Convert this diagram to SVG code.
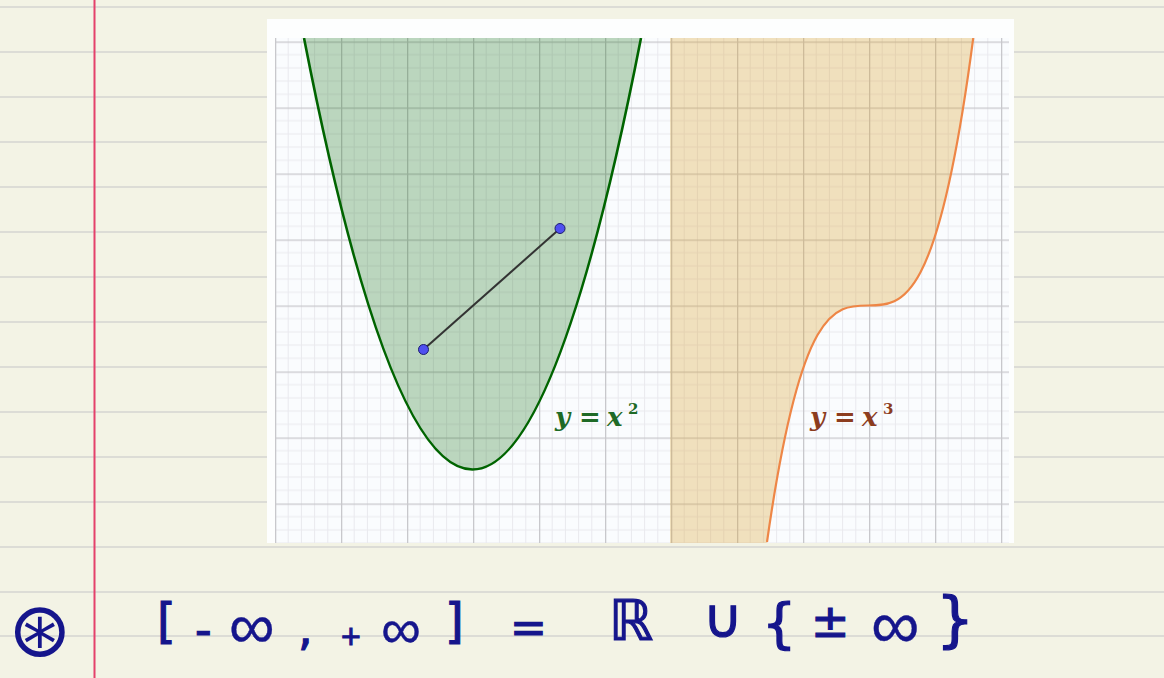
<svg xmlns="http://www.w3.org/2000/svg" width="1164" height="678" viewBox="0 0 1164 678">
  <style>
    .rule { stroke: #dcdcd6; stroke-width: 2; }
    .lbl { font-family: "DejaVu Serif", "Liberation Serif", serif; font-weight: bold; font-style: italic; font-size: 26px; }
    .up { font-style: normal; }
    .ink { font-family: "DejaVu Sans", "Noto Sans", sans-serif; fill: #15158c; stroke: #15158c; stroke-width: 1.2; }
    .inf { font-family: "Liberation Sans", "DejaVu Sans", sans-serif; stroke-width: 0.4; }
  </style>
  <defs>
    <pattern id="grid" x="275" y="41.5" width="66" height="66" patternUnits="userSpaceOnUse">
      <path d="M13.2 0V66M26.4 0V66M39.6 0V66M52.8 0V66M0 13.2H66M0 26.4H66M0 39.6H66M0 52.8H66" stroke="#e9e9ee" stroke-width="1" fill="none"/>
      <path d="M0.6 0V66M0 0.6H66" stroke="#c8c8cc" stroke-width="1.4" fill="none"/>
    </pattern>
    <clipPath id="gridclip"><rect x="275" y="38" width="734" height="505"/></clipPath>
  </defs>

  <g id="paper">
    <rect x="0" y="0" width="1164" height="678" fill="#f3f3e5"/>
    <path class="rule" d="M0 7H1164M0 52H1164M0 97H1164M0 142H1164M0 187H1164M0 232H1164M0 277H1164M0 322H1164M0 367H1164M0 412H1164M0 457H1164M0 502H1164M0 547H1164M0 592H1164M0 636H1164"/>
    <line x1="94.5" y1="0" x2="94.5" y2="678" stroke="#e4416b" stroke-width="2"/>
  </g>

  <g id="graph-panel">
    <rect x="267" y="19" width="747" height="524" fill="#fdfefe"/>
    <rect x="275" y="38" width="734" height="505" fill="#fafcfe"/>
    <rect x="275" y="38" width="734" height="505" fill="url(#grid)"/>
  </g>

  <g id="parabola" clip-path="url(#gridclip)">
    <path d="M304 38 Q472.5 901 641 38 Z" fill="rgb(0,100,0)" fill-opacity="0.25"/>
    <path d="M304 38 Q472.5 901 641 38" fill="none" stroke="#006400" stroke-width="2.6"/>
  </g>

  <g id="cubic" clip-path="url(#gridclip)">
    <path d="M767 543 L767 542 C835.67 59.6 904.33 561.1 973 39.8 L973.3 38 L670 38 L670 543 Z" fill="rgb(220,160,40)" fill-opacity="0.3"/>
    <path d="M767 542 C835.67 59.6 904.33 561.1 973 39.8 L973.3 38" fill="none" stroke="#ee8646" stroke-width="2.2"/>
  </g>

  <g id="connectors">
    <line x1="423.5" y1="349.5" x2="560" y2="228.5" stroke="#333333" stroke-width="2"/>
  </g>
  <g id="point-A"><circle cx="423.5" cy="349.5" r="5" fill="#4f4ff0" stroke="#1c1c70" stroke-width="1"/></g>
  <g id="point-B"><circle cx="560" cy="228.5" r="5" fill="#4f4ff0" stroke="#1c1c70" stroke-width="1"/></g>

  <g id="label-square">
    <text class="lbl" fill="#1e6a26" y="426"><tspan x="555">y</tspan><tspan class="up" x="579">=</tspan><tspan x="607">x</tspan><tspan class="up" x="628" y="414" font-size="15">2</tspan></text>
  </g>
  <g id="label-cube">
    <text class="lbl" fill="#8c3c1e" y="426"><tspan x="810">y</tspan><tspan class="up" x="834">=</tspan><tspan x="862">x</tspan><tspan class="up" x="883" y="414" font-size="15">3</tspan></text>
  </g>

  <g id="handwriting">
    <text class="ink" x="8" y="656" style="font-size:76px; stroke-width:0">⊛</text>
    <text class="ink" font-size="46"><tspan x="157" y="638" font-size="48">[</tspan><tspan x="195" y="646">-</tspan><tspan class="inf" x="229" y="648" font-size="64">∞</tspan><tspan x="298" y="645">,</tspan><tspan x="340" y="645" font-size="26">+</tspan><tspan class="inf" x="381" y="648" font-size="56">∞</tspan><tspan x="445" y="638" font-size="48">]</tspan><tspan x="510" y="643" font-size="44">=</tspan><tspan x="609" y="640" font-size="56">ℝ</tspan><tspan x="703" y="637" font-size="54">∪</tspan><tspan x="762" y="642" font-size="54">{</tspan><tspan x="811" y="637">±</tspan><tspan class="inf" x="871" y="648" font-size="68">∞</tspan><tspan x="936" y="640" font-size="60">}</tspan></text>
  </g>
</svg>
